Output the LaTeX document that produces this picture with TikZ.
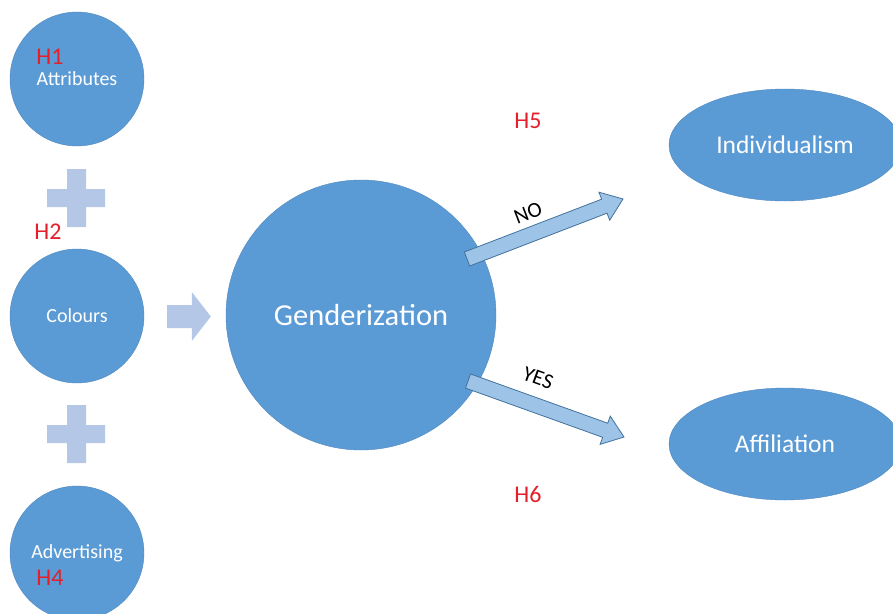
\documentclass[tikz,border=0pt]{standalone}
\usepackage{fontspec}
\setmainfont{Carlito}
\usetikzlibrary{shapes.geometric,calc,positioning}
\definecolor{nodeblue}{HTML}{5B9BD5}
\definecolor{nodeedge}{HTML}{4F87BD}
\definecolor{plusblue}{HTML}{B4C7E7}
\definecolor{armfill}{HTML}{9DC3E6}
\definecolor{armedge}{HTML}{41719C}
\definecolor{hypred}{HTML}{E3202A}

\begin{document}
\begin{tikzpicture}[x=1pt,y=-1pt]
    \tikzstyle{factor}=[circle, fill=nodeblue, draw=nodeedge, text=white, minimum size=134pt, inner sep=0pt, font=\fontsize{20}{23}\selectfont]
    \tikzstyle{outcome}=[ellipse, fill=nodeblue, draw=nodeedge, text=white, minimum width=232pt, minimum height=112pt, inner sep=0pt, font=\fontsize{25.5}{29}\selectfont]
    \tikzstyle{hyp}=[text=hypred, inner sep=0pt, font=\fontsize{24}{28}\selectfont]
    \tikzstyle{answer}=[inner sep=0pt, font=\fontsize{21.5}{25}\selectfont]
    \tikzstyle{branch}=[fill=armfill, draw=armedge, line width=0.8pt, line join=miter]

    \useasboundingbox (0,0) rectangle (893,613);

    \node[factor]    (attr) at (77,79)  {Attributes};
    \node[factor]    (col)  at (77,316) {Colours};
    \node[factor]    (adv)  at (77,553) {Advertising};
    \node[circle, fill=nodeblue, draw=nodeedge, minimum size=270pt, inner sep=0pt,
          text=white, font=\fontsize{30.5}{35}\selectfont] (gen) at (361,315) {Genderization};
    \node[outcome]   (indiv) at (785,145) {Individualism};
    \node[outcome]   (affil) at (785,444) {Affiliation};

    \node[hyp] (h1) at (50,57)  {H1};
    \node[hyp] (h2) at (48,232) {H2};
    \node[hyp] (h4) at (50,578) {H4};
    \node[hyp] (h5) at (528,121) {H5};
    \node[hyp] (h6) at (528,494) {H6};

    % plus signs between the factors
    \foreach \y in {198,434}
      \fill[plusblue] (47,\y-9) rectangle (105,\y+9) (67,\y-29) rectangle (86,\y+29);

    % arrow into genderization
    \coordinate (feedtail) at (167,316.5);
    \coordinate (feedtip)  at ($(gen.west)+(-15,1.5)$);
    \coordinate (feedneck) at ($(feedtip)!19pt!(feedtail)$);
    \fill[plusblue] ($(feedtail)!11.5pt!90:(feedtip)$) -- ($(feedneck)!11.5pt!90:(feedtip)$)
        -- ($(feedneck)!24.5pt!90:(feedtip)$) -- (feedtip) -- ($(feedneck)!24.5pt!-90:(feedtip)$)
        -- ($(feedneck)!11.5pt!-90:(feedtip)$) -- ($(feedtail)!11.5pt!-90:(feedtip)$) -- cycle;

    % branches out of genderization
    \coordinate (nostart)  at ($(gen.center)+(106,-56)$);
    \coordinate (notip)    at (623,199);
    \coordinate (yesstart) at ($(gen.center)+(107,66)$);
    \coordinate (yestip)   at (624,437);
    \foreach \s/\t in {nostart/notip, yesstart/yestip} {
      \coordinate (neck) at ($(\t)!20pt!(\s)$);
      \filldraw[branch] ($(\s)!7.5pt!90:(\t)$) -- ($(neck)!7.5pt!90:(\t)$)
        -- ($(neck)!15pt!90:(\t)$) -- (\t) -- ($(neck)!15pt!-90:(\t)$)
        -- ($(neck)!7.5pt!-90:(\t)$) -- ($(\s)!7.5pt!-90:(\t)$) -- cycle;
    }
    \node[answer, rotate=21]  (no)  at (528,213) {NO};
    \node[answer, rotate=-20] (yes) at (538,378) {YES};

\end{tikzpicture}
\end{document}
